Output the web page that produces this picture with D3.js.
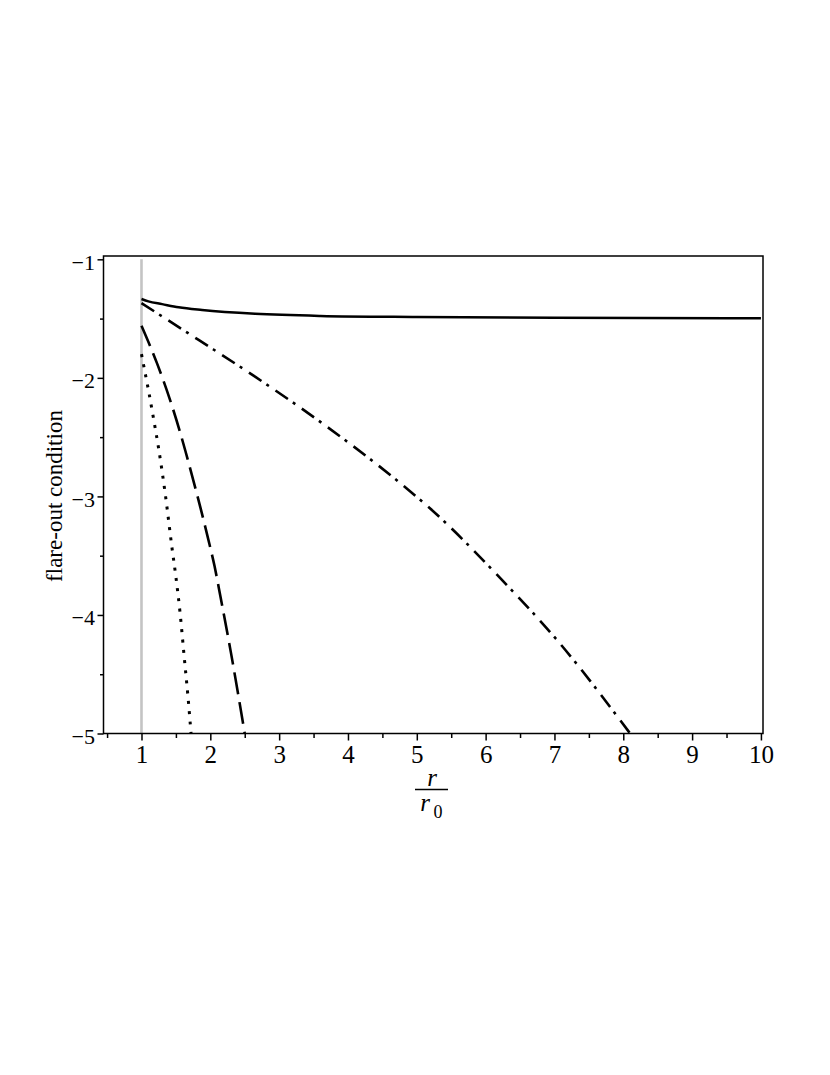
<!DOCTYPE html>
<html>
<head>
<meta charset="utf-8">
<script src="https://cdn.jsdelivr.net/npm/d3@7"></script>
<style>
  html, body { margin: 0; padding: 0; background: #fff; }
  svg { display: block; }
  text { font-family: "Liberation Serif", "Times New Roman", serif; fill: #000; }
</style>
</head>
<body>
<svg id="chart" width="830" height="1075"></svg>
<script>
// ---- data ----
const xMajorTicks = [1, 2, 3, 4, 5, 6, 7, 8, 9, 10];
const xMinorTicks = [0.5, 1.5, 2.5, 3.5, 4.5, 5.5, 6.5, 7.5, 8.5, 9.5];
const yMajorTicks = [-1, -2, -3, -4, -5];
const yMinorTicks = [-1.5, -2.5, -3.5, -4.5];

const solidR = [1, 1.1, 1.3, 1.54, 1.88, 2.65, 3.6, 5, 7, 10];
const solidV = [-1.335, -1.355, -1.378, -1.405, -1.428, -1.46, -1.478, -1.487, -1.493, -1.497];

const dashDotR = [1, 1.83, 2.65, 3.69, 4.70, 5.19, 6.23, 7.02, 8.1];
const dashDotV = [-1.37, -1.68, -1.99, -2.41, -2.86, -3.10, -3.70, -4.20, -5.0];

const dashedR = [1, 1.226, 1.40, 1.565, 1.638, 1.749, 1.86, 1.966, 2.062, 2.145, 2.30, 2.5];
const dashedV = [-1.56, -1.878, -2.16, -2.467, -2.617, -2.856, -3.103, -3.352, -3.59, -3.838, -4.32, -5.0];

const dottedR = [1, 1.05, 1.10, 1.18, 1.25, 1.35, 1.44, 1.50, 1.56, 1.62, 1.68, 1.72];
const dottedV = [-1.80, -1.95, -2.10, -2.36, -2.60, -3.0, -3.42, -3.68, -3.98, -4.35, -4.72, -5.0];

const wallR = 1;            // vertical grey line at r = r0
const wallV = [-1, -5];

// ---- layout ----
const svg = d3.select("#chart");
const pLeft = 103.5, pRight = 763, pTop = 256, pBottom = 733.5;

const x = d3.scaleLinear().domain([0.448, 10.03]).range([pLeft, pRight]);
const y = d3.scaleLinear().domain([-5, -0.972]).range([pBottom, pTop]);

svg.append("rect").attr("width", 830).attr("height", 1075).attr("fill", "#fff");

// grey vertical line
svg.append("line")
  .attr("x1", x(wallR)).attr("x2", x(wallR))
  .attr("y1", y(wallV[0])).attr("y2", y(wallV[1]))
  .attr("stroke", "#c4c4c4").attr("stroke-width", 2.6);

// curves
const line = d3.line().x(d => x(d[0])).y(d => y(d[1])).curve(d3.curveMonotoneX);
const series = [
  { r: solidR, v: solidV, dash: null, w: 2.5 },
  { r: dashDotR, v: dashDotV, dash: "15,6,3,8", w: 2.6 },
  { r: dashedR, v: dashedV, dash: "22,8", w: 2.6 },
  { r: dottedR, v: dottedV, dash: "3,7.3", w: 3 }
];
series.forEach(s => {
  const pts = s.r.map((r, i) => [r, s.v[i]]);
  const p = svg.append("path")
    .attr("d", line(pts))
    .attr("fill", "none")
    .attr("stroke", "#000")
    .attr("stroke-width", s.w)
    .attr("stroke-linecap", "butt");
  if (s.dash) p.attr("stroke-dasharray", s.dash);
});

// frame
svg.append("rect")
  .attr("x", pLeft).attr("y", pTop)
  .attr("width", pRight - pLeft).attr("height", pBottom - pTop)
  .attr("fill", "none").attr("stroke", "#000").attr("stroke-width", 1.5);

// x axis
const fmt = d => (d < 0 ? "\u2212" + Math.abs(d) : String(d));
const xAxis = svg.append("g").attr("transform", `translate(0,${pBottom})`)
  .call(d3.axisBottom(x).tickValues(xMajorTicks).tickSize(7).tickPadding(4.5).tickFormat(fmt));
xAxis.select(".domain").remove();
xAxis.selectAll(".tick line").attr("stroke-width", 1.5);
xAxis.selectAll("text").style("font-size", "25px").style("font-family", '"Liberation Serif", serif').attr("fill", "#000");
const xMinor = svg.append("g").attr("transform", `translate(0,${pBottom})`)
  .call(d3.axisBottom(x).tickValues(xMinorTicks).tickSize(4.5).tickFormat(""));
xMinor.select(".domain").remove();
xMinor.selectAll(".tick line").attr("stroke-width", 1.5);

// y axis
const yAxis = svg.append("g").attr("transform", `translate(${pLeft},0)`)
  .call(d3.axisLeft(y).tickValues(yMajorTicks).tickSize(6).tickPadding(2.5).tickFormat(fmt));
yAxis.select(".domain").remove();
yAxis.selectAll(".tick line").attr("stroke-width", 1.5);
yAxis.selectAll("text").style("font-size", "22px").style("font-family", '"Liberation Serif", serif')
  .attr("fill", "#000").attr("dy", "0.45em");
const yMinor = svg.append("g").attr("transform", `translate(${pLeft},0)`)
  .call(d3.axisLeft(y).tickValues(yMinorTicks).tickSize(3.5).tickFormat(""));
yMinor.select(".domain").remove();
yMinor.selectAll(".tick line").attr("stroke-width", 1.5);

// y label
svg.append("text")
  .attr("transform", "translate(61.5,496) rotate(-90)")
  .attr("text-anchor", "middle")
  .style("font-size", "23px")
  .text("flare-out condition");

// x label: r / r0
const xl = svg.append("g");
xl.append("text").attr("x", 432).attr("y", 786).attr("text-anchor", "middle")
  .style("font-size", "25px").style("font-style", "italic").text("r");
xl.append("line").attr("x1", 415).attr("x2", 448).attr("y1", 789.5).attr("y2", 789.5)
  .attr("stroke", "#000").attr("stroke-width", 1.3);
xl.append("text").attr("x", 425).attr("y", 811).attr("text-anchor", "middle")
  .style("font-size", "25px").style("font-style", "italic").text("r");
xl.append("text").attr("x", 438).attr("y", 818).attr("text-anchor", "middle")
  .style("font-size", "18px").text("0");
</script>
</body>
</html>
